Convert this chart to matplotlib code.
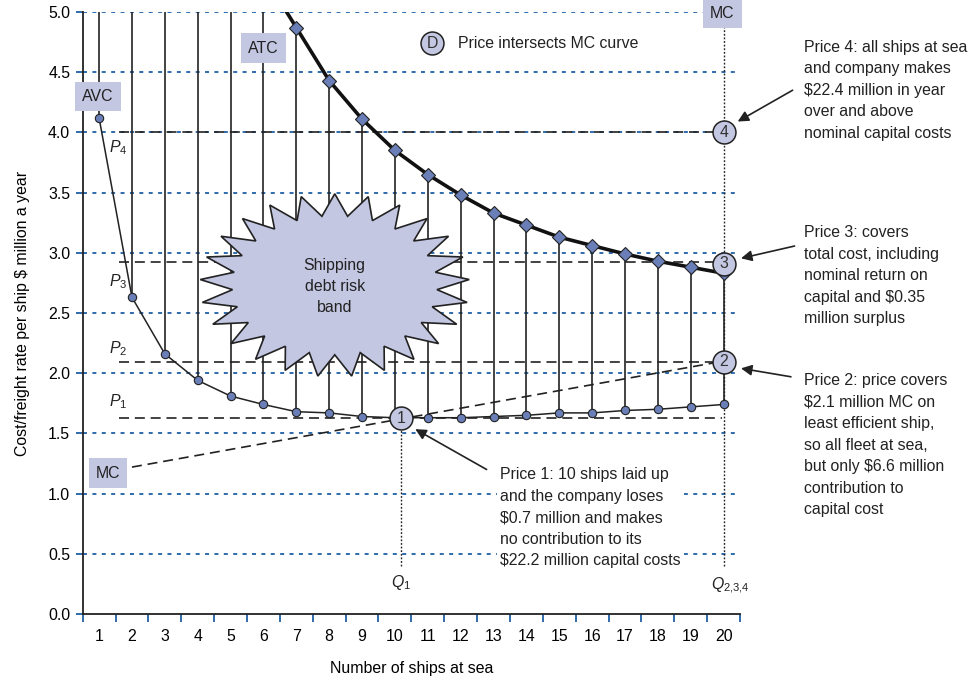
import numpy as np
import matplotlib
matplotlib.use("Agg")
import matplotlib.pyplot as plt
from matplotlib.patches import Polygon

plt.rcParams['font.family'] = ['Liberation Sans', 'DejaVu Sans']
plt.rcParams['mathtext.fontset'] = 'custom'
plt.rcParams['mathtext.rm'] = 'Liberation Sans'
plt.rcParams['mathtext.it'] = 'Liberation Sans:italic'

# data
ships = list(range(1, 21))
avc = [4.12, 2.63, 2.16, 1.94, 1.81, 1.74, 1.68, 1.67, 1.64, 1.63,
       1.63, 1.63, 1.64, 1.65, 1.67, 1.67, 1.69, 1.70, 1.72, 1.74]
atc_ships = list(range(7, 21))
atc = [4.87, 4.43, 4.11, 3.85, 3.65, 3.48, 3.33, 3.23, 3.13, 3.06,
       2.99, 2.93, 2.88, 2.83]
mc_x = [2.0, 20.0]
mc_y = [1.22, 2.10]
price_levels = [1.625, 2.09, 2.92, 4.0]
price_names = ['$P_1$', '$P_2$', '$P_3$', '$P_4$']
point_x = [10.2, 20, 20, 20]
point_y = [1.625, 2.095, 2.91, 4.0]
point_labels = ['1', '2', '3', '4']
y_ticks = [0.0, 0.5, 1.0, 1.5, 2.0, 2.5, 3.0, 3.5, 4.0, 4.5, 5.0]

lav = '#c3c7e2'
blue = '#1f5fa5'
dot_blue = '#6a7fb8'
FS = 11.4
LS = 1.54

fig = plt.figure(figsize=(9.76, 6.8), dpi=100)
ax = fig.add_axes([0.0847, 0.0971, 0.6735, 0.8853])
ax.set_xlim(0.5, 20.5)
ax.set_ylim(0, 5.0)

# blue dotted gridlines
for v in y_ticks[1:]:
    ax.axhline(v, color=blue, lw=1.3, ls=(0, (2.2, 3.0)), zorder=1)

# vertical lines from AVC up to ATC (or top of chart)
tops = {s: 5.0 for s in ships}
for s, a in zip(atc_ships, atc):
    tops[s] = a
for s, a in zip(ships, avc):
    ax.plot([s, s], [a, tops[s]], color='#222222', lw=1.2, zorder=2)

# price levels
for p in price_levels:
    ax.plot([1.6, 19.95], [p, p], color='#222222', lw=1.2, ls=(0, (6, 3.5)), zorder=2)

# Q lines
ax.plot([point_x[0], point_x[0]], [0.4, point_y[0]], color='#222222', lw=1, ls=(0, (1.3, 1.3)), zorder=2)
ax.plot([20, 20], [0.4, 5.0], color='#222222', lw=1, ls=(0, (1.3, 1.3)), zorder=2, clip_on=False)

# MC line
ax.plot(mc_x, mc_y, color='#222222', lw=1.2, ls=(0, (6, 3.5)), zorder=3)

# starburst
n = 25
ang = np.linspace(0, 2 * np.pi, 2 * n, endpoint=False) + np.pi / 2
rad = np.where(np.arange(2 * n) % 2 == 0, 1.0, 0.76)
cx, cy, rx, ry = 8.17, 2.73, 4.1, 0.76
star = Polygon(np.column_stack([cx + rx * rad * np.cos(ang), cy + ry * rad * np.sin(ang)]),
               closed=True, facecolor=lav, edgecolor='#222222', lw=1.2, zorder=4)
ax.add_patch(star)
ax.text(cx, 2.72, 'Shipping\ndebt risk\nband', ha='center', va='center',
        fontsize=FS, linespacing=LS, color='#222222', zorder=5)

# AVC curve
ax.plot(ships, avc, color='#222222', lw=1.1, zorder=5)
ax.plot(ships, avc, 'o', ms=6, mfc=dot_blue, mec='#222222', mew=0.8, zorder=6)

# ATC curve, extended to the top edge
x0 = atc_ships[0] - (5.0 - atc[0]) / (atc[0] - atc[1])
ax.plot([x0] + atc_ships, [5.0] + atc, color='#111111', lw=2.6, zorder=5)
ax.plot(atc_ships, atc, 'D', ms=7.5, mfc=dot_blue, mec='#222222', mew=0.8, zorder=6)

# numbered circles
for px, py, lab in zip(point_x, point_y, point_labels):
    ax.plot(px, py, 'o', ms=16.5, mfc=lav, mec='#222222', mew=1.1, zorder=7, clip_on=False)
    ax.text(px, py, lab, ha='center', va='center', fontsize=FS, color='#333333', zorder=8)

# legend marker
ax.plot(11.13, 4.74, 'o', ms=16.5, mfc=lav, mec='#222222', mew=1.1, zorder=7)
ax.text(11.13, 4.74, 'D', ha='center', va='center', fontsize=FS, color='#333333', zorder=8)
ax.text(11.92, 4.74, 'Price intersects MC curve', ha='left', va='center', fontsize=FS, color='#222222')

# label boxes
box = dict(boxstyle='square,pad=0.45', facecolor=lav, edgecolor='none')
for tx, ty, t in [(0.97, 4.30, 'AVC'), (6.01, 4.70, 'ATC'), (19.96, 4.99, 'MC'), (1.27, 1.17, 'MC')]:
    ax.text(tx, ty, t, ha='center', va='center', fontsize=FS, color='#222222', bbox=box,
            zorder=9, clip_on=False)

# P and Q labels
for (lx, ly), nm in zip([(1.57, 1.76), (1.57, 2.20), (1.57, 2.76), (1.57, 3.87)], price_names):
    ax.text(lx, ly, nm, ha='center', va='center', fontsize=FS, color='#222222')
ax.text(10.2, 0.26, '$Q_1$', ha='center', va='center', fontsize=FS, color='#222222')
ax.text(20.2, 0.23, '$Q_{2{,}3{,}4}$', ha='center', va='center', fontsize=FS, color='#222222')

# annotations
arrow = dict(arrowstyle='-|>', color='#222222', lw=1.2, mutation_scale=16, shrinkA=0, shrinkB=0)
notes = [
    ('Price 1: 10 ships laid up\nand the company loses\n$0.7 million and makes\n'
     'no contribution to its\n$22.2 million capital costs', 13.2, 0.80, (12.79, 1.20), (10.62, 1.535)),
    ('Price 2: price covers\n$2.1 million MC on\nleast efficient ship,\nso all fleet at sea,\n'
     'but only $6.6 million\ncontribution to\ncapital cost', 22.45, 1.40, (22.05, 1.97), (20.53, 2.04)),
    ('Price 3: covers\ntotal cost, including\nnominal return on\ncapital and $0.35\nmillion surplus',
     22.45, 2.81, (22.16, 3.056), (20.53, 2.954)),
    ('Price 4: all ships at sea\nand company makes\n$22.4 million in year\nover and above\n'
     'nominal capital costs', 22.45, 4.35, (22.1, 4.35), (20.43, 4.09)),
]
for i, (txt, tx, ty, start, end) in enumerate(notes):
    bg = dict(facecolor='white', edgecolor='none', pad=2) if i == 0 else None
    ax.text(tx, ty, txt.replace('$', r'\$'), ha='left', va='center', fontsize=FS,
            linespacing=LS, color='#222222', clip_on=False, bbox=bg, zorder=6)
    ax.annotate('', xy=end, xytext=start, arrowprops=arrow, annotation_clip=False)

# axes styling
for side in ['top', 'right']:
    ax.spines[side].set_visible(False)
for side in ['left', 'bottom']:
    ax.spines[side].set_linewidth(1.3)
    ax.spines[side].set_color('#222222')

ax.set_xticks(np.arange(0.5, 21, 1))
ax.set_xticklabels([])
ax.set_xticks(ships, minor=True)
ax.set_xticklabels([str(s) for s in ships], minor=True)
ax.tick_params(axis='x', which='major', direction='out', length=6, width=1.3, color=blue)
ax.tick_params(axis='x', which='minor', length=0, pad=11, labelsize=FS)
ax.set_yticks(y_ticks)
ax.set_yticklabels([f'{v:.1f}' for v in y_ticks])
ax.tick_params(axis='y', direction='out', length=5, width=1.3, color=blue, pad=4, labelsize=FS)

ax.set_xlabel('Number of ships at sea', fontsize=FS, labelpad=12)
ax.set_ylabel(r'Cost/freight rate per ship \$ million a year', fontsize=FS, labelpad=13)

fig.savefig('out.png', dpi=100)
